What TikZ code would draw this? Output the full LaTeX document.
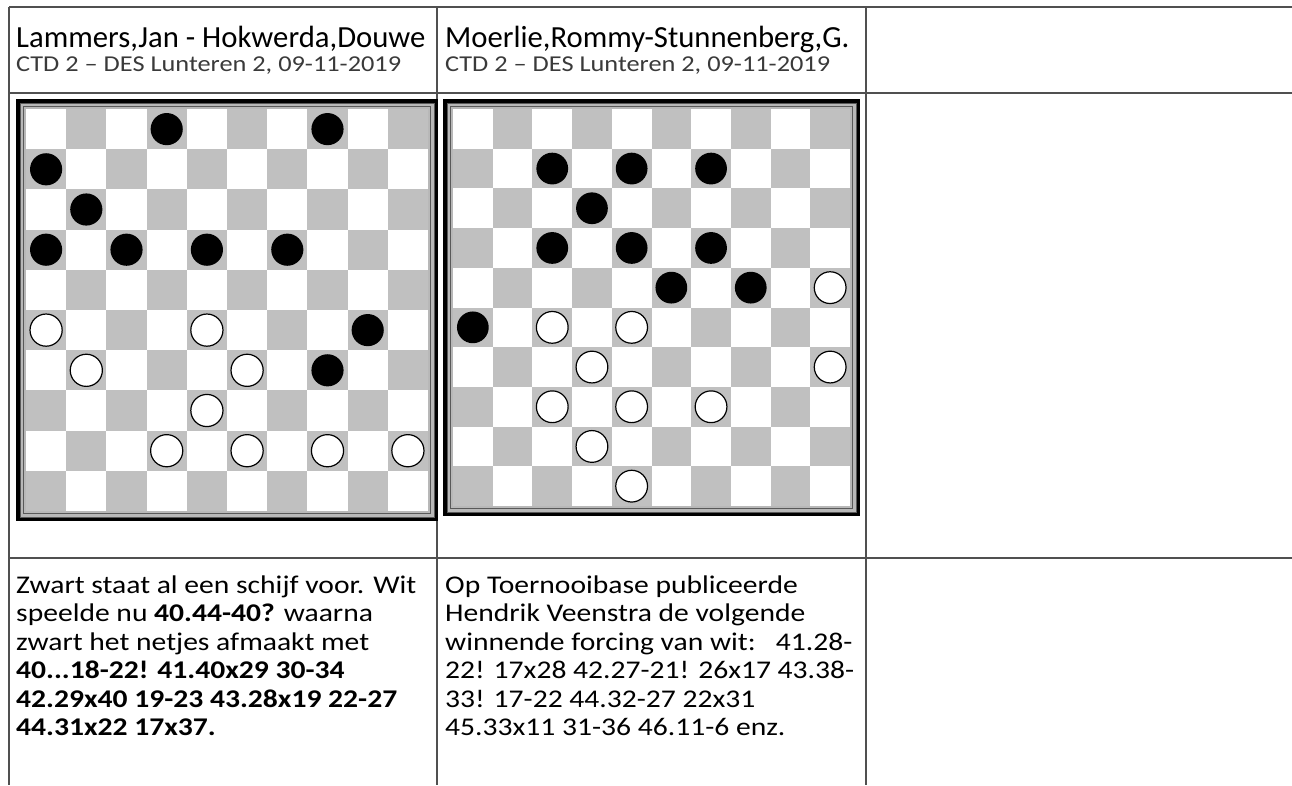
\documentclass[tikz,border=0pt]{standalone}
\usepackage{fontspec}
\setmainfont{Carlito}
\newfontfamily\breedfont[FakeStretch=1.16]{Carlito}
\usepackage{tikz}
\usetikzlibrary{positioning}

\definecolor{lijngrijs}{HTML}{505050}
\definecolor{veldgrijs}{HTML}{C0C0C0}
\definecolor{randgrijs}{HTML}{B8B8B8}
\definecolor{subgrijs}{HTML}{3A3A3A}

% #1,#2: top left of the squares, #3: square size, #4: black pieces, #5: white pieces (col/row)
\newcommand{\dambord}[5]{%
  \fill[black] ({#1-10},{#2-10}) rectangle ({#1+10*#3+9.5},{#2+10*#3+9.5});
  \fill[randgrijs] ({#1-6.5},{#2-6.5}) rectangle ({#1+10*#3+6.5},{#2+10*#3+6.5});
  \draw[black!65, line width=0.9pt] ({#1-6},{#2-6}) rectangle ({#1+10*#3+6},{#2+10*#3+6});
  \draw[black!65, line width=0.9pt] ({#1-2.5},{#2-2.5}) rectangle ({#1+10*#3+2.5},{#2+10*#3+2.5});
  \begin{scope}[shift={(#1,#2)}, x=#3pt, y=-#3pt]
    \fill[white] (0,0) rectangle (10,10);
    \foreach \r in {0,...,9} {
      \foreach \k in {0,...,9} {
        \pgfmathtruncatemacro{\p}{mod(\r+\k,2)}
        \ifnum\p=1 \fill[veldgrijs] (\k,\r) rectangle ++(1,1); \fi
      }
    }
    \foreach \k/\r in {#4} \fill[zwartschijf] (\k+0.5,\r+0.5) circle[radius=0.4];
    \foreach \k/\r in {#5} \filldraw[witschijf] (\k+0.5,\r+0.5) circle[radius=0.4];
  \end{scope}}

\begin{document}
\begin{tikzpicture}[
  x=1pt, y=-1pt,
  lijn/.style={draw=lijngrijs, line width=1.4pt},
  kop/.style={anchor=base west, inner sep=0pt, font=\fontsize{30.7}{37}\selectfont},
  sub/.style={anchor=base west, inner sep=0pt, text=subgrijs, font=\breedfont\fontsize{22.7}{27}\selectfont},
  tekst/.style={anchor=base west, inner sep=0pt, align=left, font=\breedfont\fontsize{25.5}{28.5}\selectfont},
  zwartschijf/.style={fill=black},
  witschijf/.style={fill=white, draw=black, line width=1.2pt}
]
\useasboundingbox[fill=white] (0,0) rectangle (1292,785);

\draw[lijn] (9,7) -- (1292,7);
\draw[lijn] (9,93) -- (1292,93);
\draw[lijn] (9,558) -- (1292,558);
\draw[lijn] (9,7) -- (9,785);
\draw[lijn] (437,7) -- (437,785);
\draw[lijn] (866,7) -- (866,785);

\node[kop] (kop1) at (16,47) {Lammers,Jan - Hokwerda,Douwe};
\node[sub] (sub1) at (16,71) {CTD 2 – DES Lunteren 2, 09-11-2019};
\node[kop] (kop2) at (445,47) {Moerlie,Rommy-Stunnenberg,G.};
\node[sub] (sub2) at (445,71) {CTD 2 – DES Lunteren 2, 09-11-2019};

\dambord{26}{109}{40.2}
  {3/0, 7/0, 0/1, 1/2, 0/3, 2/3, 4/3, 6/3, 8/5, 7/6}
  {0/5, 4/5, 1/6, 5/6, 4/7, 3/8, 5/8, 7/8, 9/8}
\dambord{453}{109}{39.7}
  {2/1, 4/1, 6/1, 3/2, 2/3, 4/3, 6/3, 5/4, 7/4, 0/5}
  {9/4, 2/5, 4/5, 3/6, 9/6, 2/7, 4/7, 6/7, 3/8, 4/9}

\node[tekst] (uitleg1) at (16,735.5)
  {Zwart staat al een schijf voor. Wit\\
   speelde nu \textbf{40.44-40?} waarna\\
   zwart het netjes afmaakt met\\
   \textbf{40...18-22! 41.40x29 30-34}\\
   \textbf{42.29x40 19-23 43.28x19 22-27}\\
   \textbf{44.31x22 17x37.}};
\node[tekst] (uitleg2) at (445,735.5)
  {Op Toernooibase publiceerde\\
   Hendrik Veenstra de volgende\\
   winnende forcing van wit:\ \ \ 41.28-\\
   22! 17x28 42.27-21! 26x17 43.38-\\
   33! 17-22 44.32-27 22x31\\
   45.33x11 31-36 46.11-6 enz.};
\end{tikzpicture}
\end{document}
